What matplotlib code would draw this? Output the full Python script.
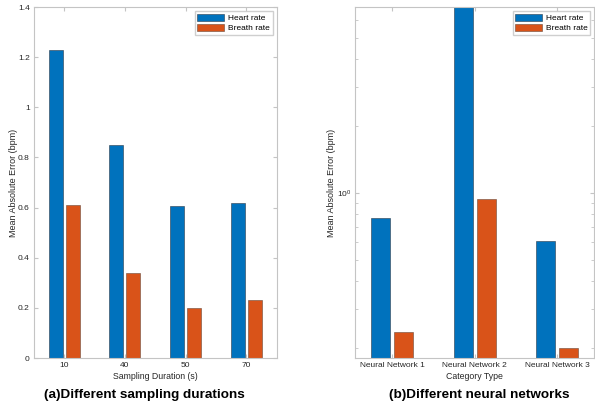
import numpy as np
import matplotlib
matplotlib.use('Agg')
import matplotlib.pyplot as plt
import matplotlib.ticker as ticker

plt.rcParams['font.family'] = ['Liberation Sans', 'DejaVu Sans']

durations = ['10', '40', '50', '70']
heart_dur = [1.23, 0.85, 0.605, 0.62]
breath_dur = [0.61, 0.34, 0.20, 0.23]

networks = ['Neural Network 1', 'Neural Network 2', 'Neural Network 3']
heart_nn = [0.77, 7.5, 0.61]
breath_nn = [0.237, 0.94, 0.20]

BLUE = '#0072BD'
ORANGE = '#D95319'
SPINE = '#c4c4c4'
TEXT = '#262626'

fig = plt.figure(figsize=(5.95, 4.12), dpi=100)
ax_a = fig.add_axes([0.057, 0.131, 0.408, 0.852])
ax_b = fig.add_axes([0.597, 0.131, 0.402, 0.852])


def style(ax):
    for s in ax.spines.values():
        s.set_color(SPINE)
        s.set_linewidth(0.8)
    ax.tick_params(which='both', direction='in', top=True, right=True,
                   color=SPINE, labelcolor=TEXT, labelsize=6, pad=3)
    ax.tick_params(which='major', length=3)
    ax.tick_params(which='minor', length=2)
    ax.legend(['Heart rate', 'Breath rate'], loc='upper right',
              fontsize=6, frameon=True, fancybox=False, edgecolor=SPINE,
              handlelength=3.2, handleheight=0.9, borderpad=0.3,
              labelspacing=0.2, handletextpad=0.5, borderaxespad=0.5)


w = 0.23
off = 0.14

x = np.arange(len(durations))
ax_a.bar(x - off, heart_dur, w, color=BLUE, edgecolor='#2b3a48', linewidth=0.4)
ax_a.bar(x + off, breath_dur, w, color=ORANGE, edgecolor='#6a4a3a', linewidth=0.4)
ax_a.set_xlim(-0.5, 3.5)
ax_a.set_ylim(0, 1.4)
ax_a.set_xticks(x)
ax_a.set_xticklabels(durations)
ax_a.yaxis.set_major_locator(ticker.MultipleLocator(0.2))
ax_a.yaxis.set_major_formatter(ticker.FuncFormatter(lambda v, p: f'{v:g}'))
ax_a.set_xlabel('Sampling Duration (s)', fontsize=6.3, color=TEXT, labelpad=2)
ax_a.set_ylabel('Mean Absolute Error (bpm)', fontsize=6.5, color=TEXT)
ax_a.yaxis.set_label_coords(-0.066, 0.5)
style(ax_a)

x2 = np.arange(len(networks))
ax_b.set_yscale('log')
ax_b.bar(x2 - off, heart_nn, w, color=BLUE, edgecolor='#2b3a48', linewidth=0.4)
ax_b.bar(x2 + off, breath_nn, w, color=ORANGE, edgecolor='#6a4a3a', linewidth=0.4)
ax_b.set_xlim(-0.45, 2.45)
ax_b.set_ylim(0.18, 6.9)
ax_b.set_xticks(x2)
ax_b.set_xticklabels(networks)
ax_b.yaxis.set_major_locator(ticker.LogLocator(base=10))
ax_b.yaxis.set_minor_locator(ticker.LogLocator(base=10, subs=np.arange(2, 10)))
ax_b.yaxis.set_minor_formatter(ticker.NullFormatter())
ax_b.set_xlabel('Category Type', fontsize=6.3, color=TEXT, labelpad=2)
ax_b.set_ylabel('Mean Absolute Error (bpm)', fontsize=6.5, color=TEXT)
ax_b.yaxis.set_label_coords(-0.08, 0.5)
style(ax_b)

fig.text(0.243, 0.041, '(a)Different sampling durations', ha='center',
         va='center', fontsize=9.7, fontweight='bold')
fig.text(0.805, 0.041, '(b)Different neural networks', ha='center',
         va='center', fontsize=9.7, fontweight='bold')

fig.savefig('out.png', dpi=100)
